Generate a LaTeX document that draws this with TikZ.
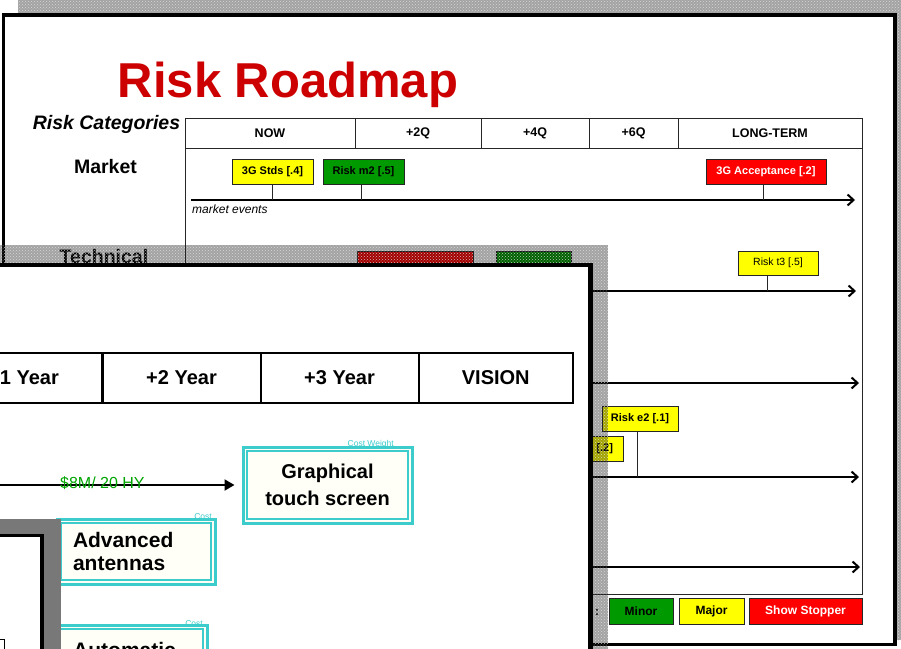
\documentclass[tikz,border=0pt]{standalone}
\usepackage{fontspec}
\setmainfont{Liberation Sans}
\usetikzlibrary{arrows.meta,patterns}
\definecolor{titlered}{RGB}{204,0,0}
\definecolor{rred}{RGB}{255,0,0}
\definecolor{rgreen}{RGB}{0,153,0}
\definecolor{ryellow}{RGB}{255,255,0}
\definecolor{cy}{RGB}{60,204,204}
\definecolor{offwhite}{RGB}{255,255,248}
\definecolor{dgreen}{RGB}{0,165,0}
\definecolor{framegray}{RGB}{120,120,120}
\newcommand{\myfs}[1]{\fontsize{#1}{#1}\selectfont}
\newcommand{\myfsl}[2]{\fontsize{#1}{#2}\selectfont}
\begin{document}
\begin{tikzpicture}[x=1pt,y=-1pt,
  texture/.style={fill=black, fill opacity=0.36, postaction={pattern=crosshatch dots, pattern color=white!80!gray, fill opacity=0.8}},
  riskbox/.style={draw=black!85, line width=1pt, inner sep=0pt, minimum height=25pt, font=\bfseries\myfs{11}},
  legbox/.style={draw=black!85, line width=1pt, inner sep=0pt, minimum height=26pt, font=\bfseries\myfs{12}},
  hdrcell/.style={draw=black!85, line width=1pt, inner sep=0pt, minimum height=30pt, font=\bfseries\myfs{12.5}},
  fcell/.style={draw=black, line width=2pt, inner sep=0pt, minimum height=50pt, font=\bfseries\myfs{20}},
  axisline/.style={line width=2pt, -{Straight Barb[length=6pt,width=11pt]}},
  stem/.style={line width=1pt, draw=black!85},
  rowlabel/.style={anchor=base, inner sep=0pt, font=\bfseries\myfs{19.5}},
  cybox/.style={draw=cy, line width=3pt, fill=offwhite, inner sep=0pt,
    path picture={\draw[cy, line width=1.7pt] ([shift={(3.7pt,-3.7pt)}]path picture bounding box.north west) rectangle ([shift={(-3.7pt,3.7pt)}]path picture bounding box.south east);}},
  costlbl/.style={anchor=base east, inner sep=0pt, text=cy, font=\myfs{8.5}}
]
\clip (0,0) rectangle (901,648);
\fill[white] (0,0) rectangle (901,648);

% ---------- back slide ----------
\path[texture] (18,0) rectangle (901,640);
\draw[line width=3.5pt, fill=white] (3.5,15) rectangle (895,644.5);

\node[anchor=base, inner sep=0pt, text=titlered, font=\bfseries\myfs{49}] (title) at (288,97) {Risk Roadmap};
\node[anchor=base, inner sep=0pt, font=\bfseries\itshape\myfs{19.5}] (cats) at (106.5,129) {Risk Categories};
\node[rowlabel] (market) at (105.5,173) {Market};
\node[rowlabel] (technical) at (104,263.5) {Technical};

% table
\draw[line width=1pt, black!85] (185,118) rectangle (862,594);
\node[hdrcell, minimum width=170pt] (hNow) at (270,133) {NOW};
\node[hdrcell, minimum width=126pt] (h2q) at (418,133) {+2Q};
\node[hdrcell, minimum width=108pt] (h4q) at (535,133) {+4Q};
\node[hdrcell, minimum width=89pt] (h6q) at (633.5,133) {+6Q};
\node[hdrcell, minimum width=184pt] (hLong) at (770,133) {LONG-TERM};

% market row
\coordinate (mA0) at (191,200);
\coordinate (mA1) at (855,200);
\draw[axisline] (mA0) -- (mA1);
\node[riskbox, fill=ryellow, minimum width=81pt] (m3g) at (272.5,171.5) {3G Stds [.4]};
\node[riskbox, fill=rgreen, minimum width=81pt] (mm2) at (363.5,171.5) {Risk m2 [.5]};
\node[riskbox, fill=rred, text=white, minimum width=120pt] (macc) at (766,171.5) {3G Acceptance [.2]};
\draw[stem] (m3g.south) -- (m3g.south |- mA0);
\draw[stem] ([xshift=-2.5pt]mm2.south) -- ([xshift=-2.5pt]mm2.south |- mA0);
\draw[stem] ([xshift=-3pt]macc.south) -- ([xshift=-3pt]macc.south |- mA0);
\node[anchor=base west, inner sep=0pt, font=\itshape\myfs{12}] (mev) at (192,213) {market events};

% technical row
\node[riskbox, fill=rred, minimum width=116pt] (tr1) at (415,263.5) {};
\node[riskbox, fill=rgreen, minimum width=75pt] (tg1) at (533.5,263.5) {};
\node[riskbox, fill=ryellow, minimum width=80pt, minimum height=24pt, font=\myfs{10.5}] (rt3) at (778,263) {Risk t3 [.5]};
\coordinate (tA0) at (191,291);
\coordinate (tA1) at (856,291);
\draw[axisline] (tA0) -- (tA1);
\draw[stem] ([xshift=-11pt]rt3.south) -- ([xshift=-11pt]rt3.south |- tA0);

% third row
\coordinate (cA0) at (191,383);
\coordinate (cA1) at (859,383);
\draw[axisline] (cA0) -- (cA1);

% fourth row
\coordinate (eA0) at (191,477);
\coordinate (eA1) at (859,477);
\draw[axisline] (eA0) -- (eA1);
\node[riskbox, fill=ryellow, minimum width=78pt, text width=58pt, align=right] (re1) at (584,448.5) {[.2]};
\node[riskbox, fill=ryellow, minimum width=76pt] (re2) at (640,418.5) {Risk e2 [.1]};
\draw[stem] ([xshift=-3pt]re2.south) -- ([xshift=-3pt]re2.south |- eA0);

% fifth row
\coordinate (fA0) at (191,567);
\coordinate (fA1) at (860,567);
\draw[axisline] (fA0) -- (fA1);

% legend
\node[anchor=base, inner sep=0pt, font=\bfseries\myfs{12}] (legcolon) at (597,615) {:};
\node[legbox, fill=rgreen, minimum width=64pt] (lminor) at (641,611) {Minor};
\node[legbox, fill=ryellow, minimum width=65pt] (lmajor) at (711.5,611) {Major};
\node[legbox, fill=rred, text=white, minimum width=113pt] (lshow) at (805.5,611) {Show Stopper};

% ---------- front slide ----------
\path[texture] (0,245) rectangle (608,660);
\draw[line width=4.5pt, fill=white] (-10,265) rectangle (590.5,670);

\node[fcell, minimum width=157pt] (y1) at (23.5,378) {+1 Year};
\node[fcell, minimum width=158pt] (y2) at (181.5,378) {+2 Year};
\node[fcell, minimum width=158pt] (y3) at (339.5,378) {+3 Year};
\node[fcell, minimum width=154.5pt] (vis) at (495.75,378) {VISION};

\node[cybox, minimum width=169pt, minimum height=76pt, align=center, font=\bfseries\myfsl{20}{27}] (gts) at (327.5,485) {Graphical\\touch screen};
\node[costlbl] (gtsCost) at (394,446) {Cost Weight};
\coordinate (aStart) at (-5,485);
\draw[line width=2pt, -{Triangle[length=10pt,width=11pt]}] (aStart) -- ([xshift=-7pt]gts.west);
\node[anchor=base west, inner sep=0pt, text=dgreen, font=\myfs{16}] (cost8) at (60,488) {\$8M/ 20 HY};

\node[cybox, minimum width=158pt, minimum height=65pt, text width=126pt, align=left, font=\bfseries\myfsl{21}{23}] (adv) at (136,551.5) {Advanced\\antennas};
\node[costlbl] (advCost) at (212,519) {Cost};

\node[cybox, minimum width=152pt, minimum height=60pt] (auto) at (131,655) {};
\node[anchor=base west, inner sep=0pt, font=\bfseries\myfs{21}] (autoTxt) at (73,657) {Automatic};
\node[costlbl] (autoCost) at (203,626) {Cost};

\fill[framegray] (-10,519) rectangle (61,670);
\draw[line width=3.5pt, fill=white] (-20,535.5) rectangle (42,680);
\draw[line width=1pt] (-10,639) rectangle (4.5,680);
\end{tikzpicture}
\end{document}
